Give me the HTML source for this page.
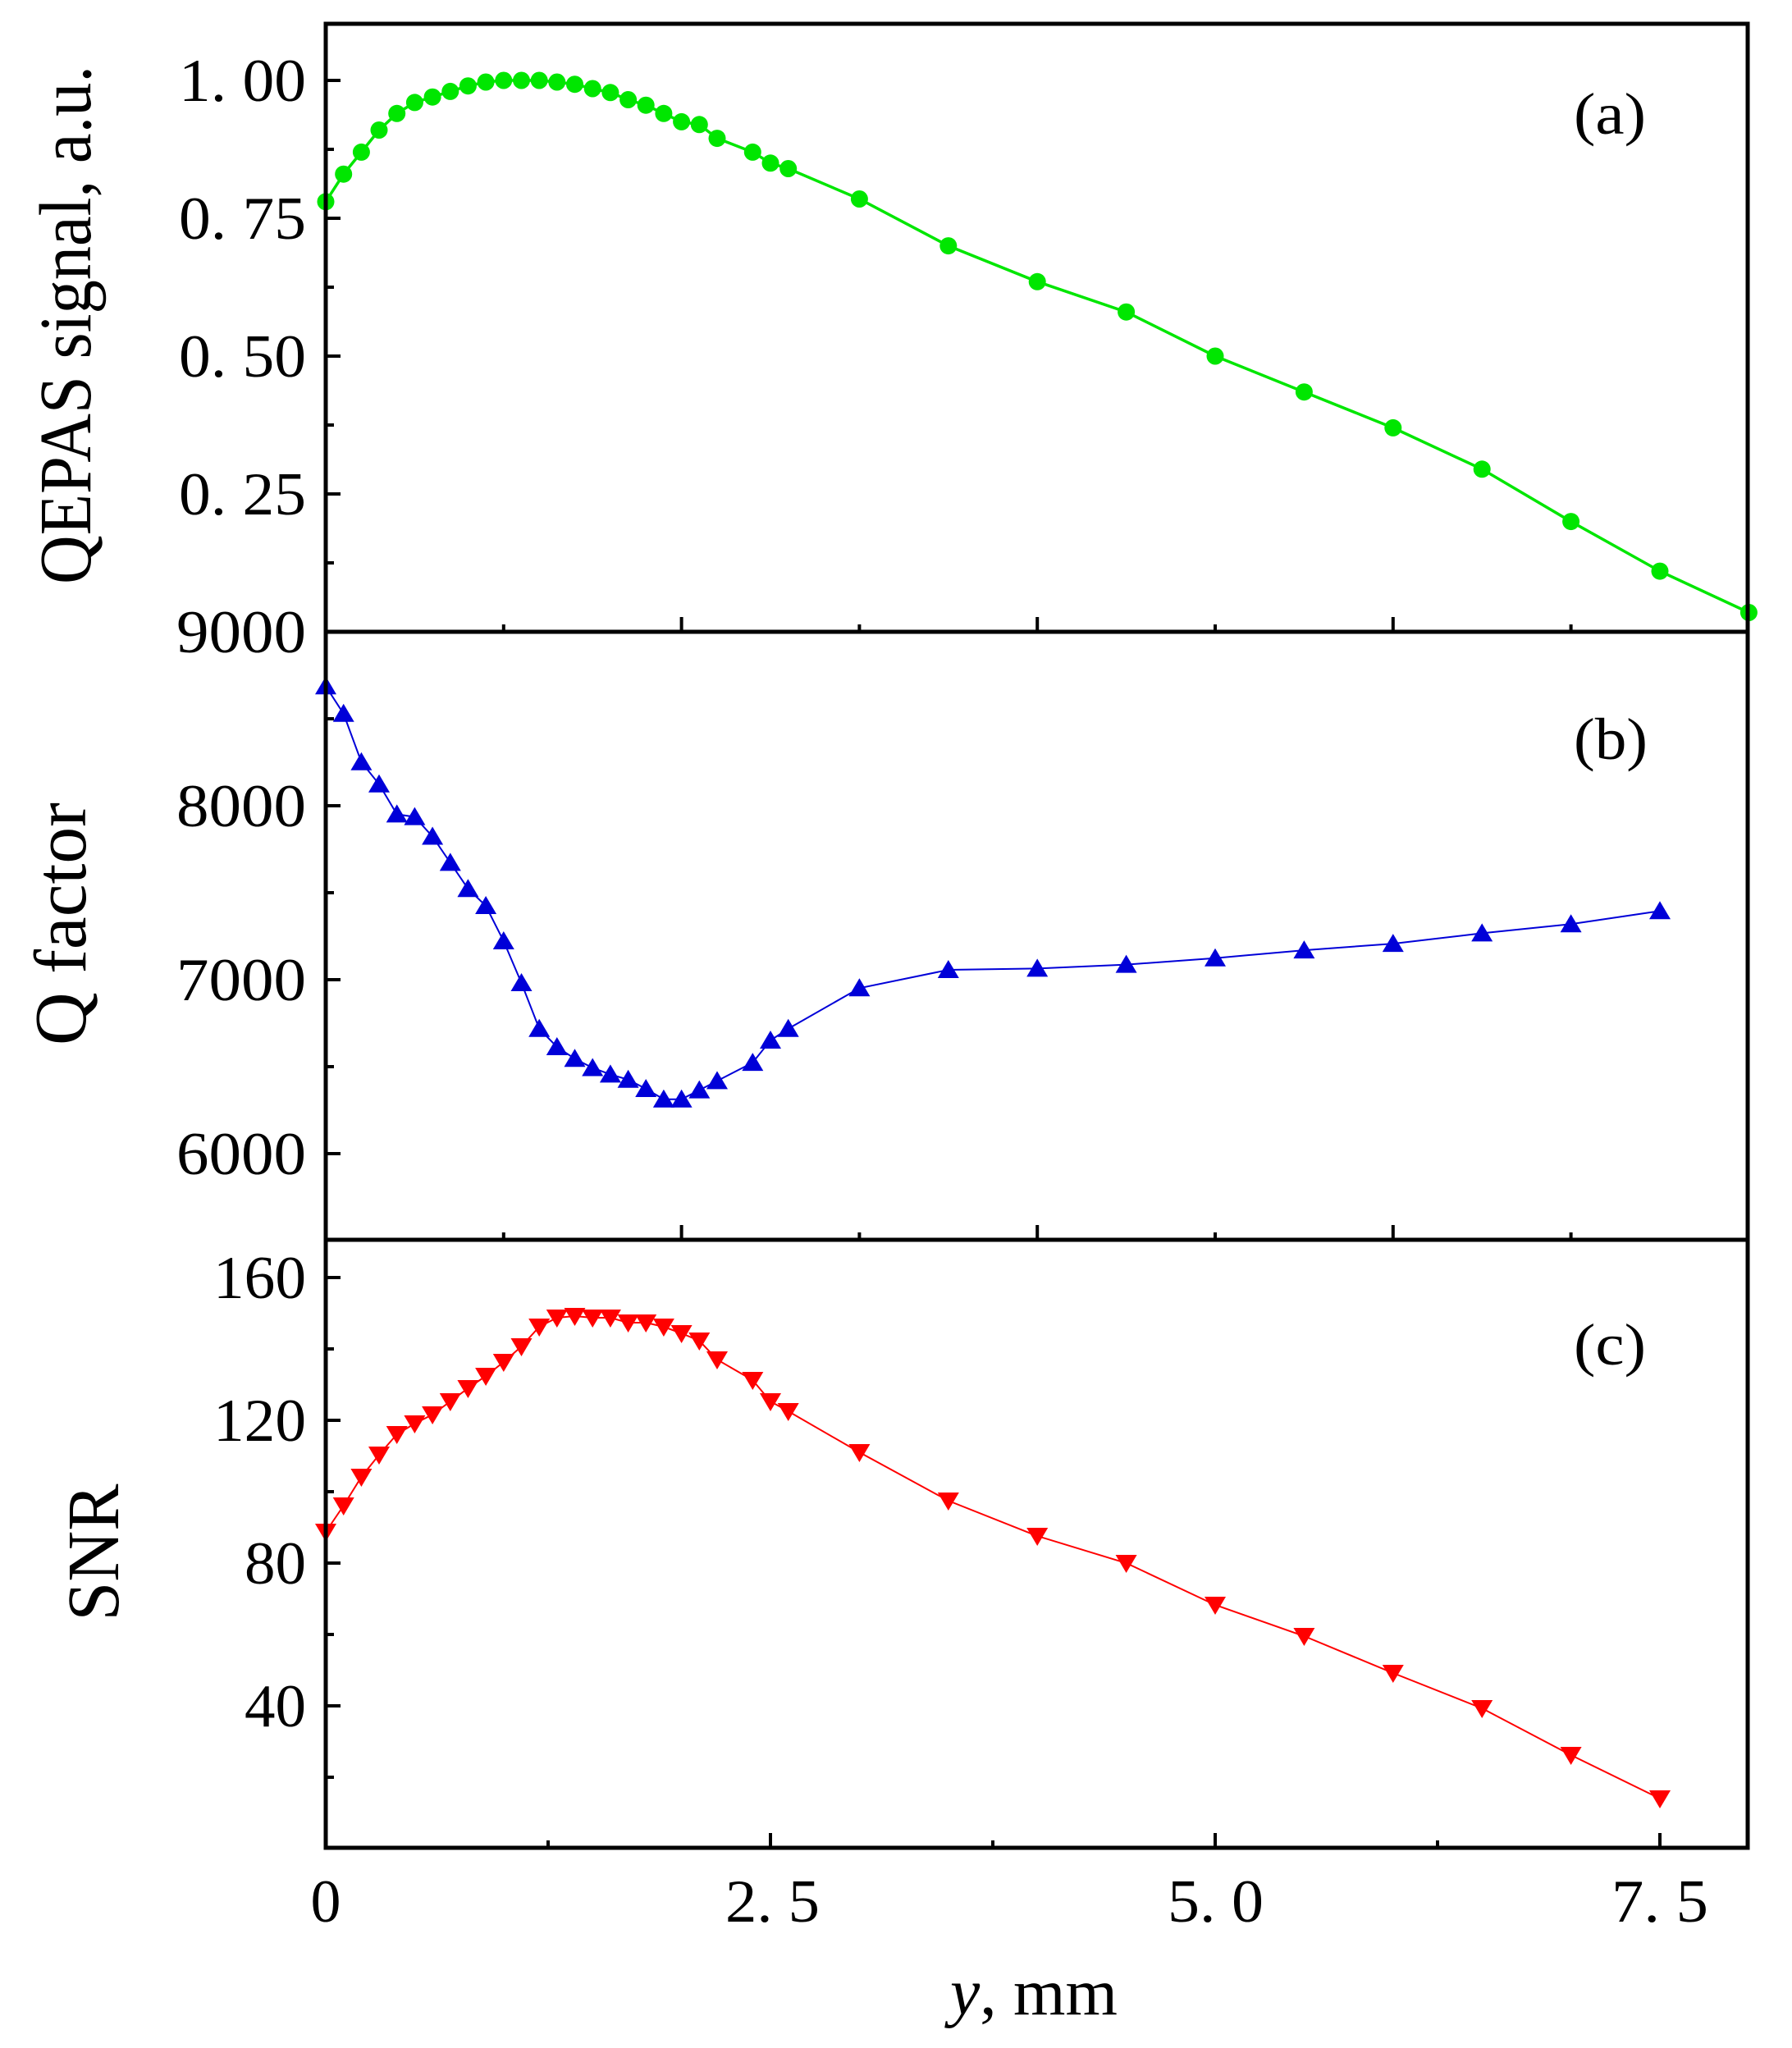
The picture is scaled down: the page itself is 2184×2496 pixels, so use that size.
<!DOCTYPE html>
<html><head><meta charset="utf-8"><style>
html,body{margin:0;padding:0;background:#fff;}
svg{display:block;}
text{font-family:"Liberation Serif","Times New Roman",serif;fill:#000;}
</style></head><body>
<svg width="2184" height="2496" viewBox="0 0 2184 2496" xmlns="http://www.w3.org/2000/svg">
<defs>
<marker id="mc" markerUnits="userSpaceOnUse" markerWidth="26" markerHeight="26" refX="13" refY="13" overflow="visible"><circle cx="13" cy="13" r="10.5" fill="#00e600"/></marker>
<marker id="mu" markerUnits="userSpaceOnUse" markerWidth="28" markerHeight="28" refX="14" refY="14" overflow="visible"><polygon points="14,2 27,24 1,24" fill="#0000d8"/></marker>
<marker id="md" markerUnits="userSpaceOnUse" markerWidth="28" markerHeight="28" refX="14" refY="14" overflow="visible"><polygon points="1,4 27,4 14,26" fill="#ff0000"/></marker>
</defs>
<rect width="2184" height="2496" fill="#fff"/>

<!-- series a -->
<polyline fill="none" stroke="#00e600" stroke-width="3.5" marker-start="url(#mc)" marker-mid="url(#mc)" marker-end="url(#mc)"
points="397,245.8 418.7,212.2 440.4,185.4 462,158.5 483.7,138.3 505.4,124.9 527.1,118.2 548.8,111.4 570.4,104.7 592.1,100 613.8,98 635.5,98 657.2,98 678.8,100 700.5,102.7 722.2,108 743.9,112.8 765.6,121.5 787.2,128.2 808.9,138.3 830.6,148.4 852.3,151.8 874,168.6 917.3,185.4 939,198.8 960.7,205.5 1047.4,242.5 1155.8,299.6 1264.2,343.3 1372.6,380.2 1481,434 1589.4,477.7 1697.8,521.4 1806.2,571.8 1914.6,635.6 2023,696.1 2131.4,746.5"/>

<!-- series b -->
<polyline fill="none" stroke="#0000d8" stroke-width="2" stroke-dasharray="" marker-start="url(#mu)" marker-mid="url(#mu)" marker-end="url(#mu)"
points="397,836.3 418.7,869.8 440.4,928.7 462,955.8 483.7,992.4 505.4,995.6 527.1,1019.5 548.8,1051.4 570.4,1083.2 592.1,1104 613.8,1147 635.5,1198 657.2,1253.7 678.8,1276 700.5,1290.3 722.2,1301.5 743.9,1309.4 765.6,1315.8 787.2,1327 808.9,1339.7 830.6,1339.7 852.3,1328.6 874,1317.4 917.3,1295.1 939,1268 960.7,1253.7 1047.4,1204.3 1155.8,1182 1264.2,1180.4 1372.6,1175.6 1481,1167.7 1589.4,1158.1 1697.8,1150.1 1806.2,1137.4 1914.6,1126.3 2023,1110.3"/>

<!-- series c -->
<polyline fill="none" stroke="#ff0000" stroke-width="2" marker-start="url(#md)" marker-mid="url(#md)" marker-end="url(#md)"
points="397,1867 418.7,1835 440.4,1800 462,1773 483.7,1748 505.4,1735 527.1,1724 548.8,1708 570.4,1692 592.1,1677 613.8,1660 635.5,1641 657.2,1617 678.8,1606 700.5,1604 722.2,1606 743.9,1606 765.6,1612 787.2,1612 808.9,1617 830.6,1625 852.3,1634 874,1657 917.3,1682 939,1708 960.7,1720 1047.4,1770 1155.8,1829 1264.2,1872 1372.6,1905 1481,1956 1589.4,1994 1697.8,2039 1806.2,2082 1914.6,2139 2023,2192"/>

<!-- frames -->
<g fill="none" stroke="#000" stroke-width="5">
<rect x="397" y="29" width="1733" height="2223"/>
<line x1="397" y1="770" x2="2130" y2="770"/>
<line x1="397" y1="1511" x2="2130" y2="1511"/>
</g>

<!-- ticks -->
<g stroke="#000" stroke-width="4">
<!-- panel a y -->
<line x1="397" y1="98" x2="415" y2="98"/><line x1="397" y1="266" x2="415" y2="266"/><line x1="397" y1="434" x2="415" y2="434"/><line x1="397" y1="602" x2="415" y2="602"/>
<line x1="397" y1="182" x2="407" y2="182"/><line x1="397" y1="350" x2="407" y2="350"/><line x1="397" y1="518" x2="407" y2="518"/><line x1="397" y1="686" x2="407" y2="686"/>
<!-- panel b y -->
<line x1="397" y1="982" x2="415" y2="982"/><line x1="397" y1="1194" x2="415" y2="1194"/><line x1="397" y1="1406" x2="415" y2="1406"/>
<line x1="397" y1="876" x2="407" y2="876"/><line x1="397" y1="1088" x2="407" y2="1088"/><line x1="397" y1="1300" x2="407" y2="1300"/>
<!-- panel c y -->
<line x1="397" y1="1557" x2="415" y2="1557"/><line x1="397" y1="1731" x2="415" y2="1731"/><line x1="397" y1="1905" x2="415" y2="1905"/><line x1="397" y1="2079" x2="415" y2="2079"/>
<line x1="397" y1="1644" x2="407" y2="1644"/><line x1="397" y1="1818" x2="407" y2="1818"/><line x1="397" y1="1992" x2="407" y2="1992"/><line x1="397" y1="2166" x2="407" y2="2166"/>
<!-- x ticks at a bottom -->
<line x1="830.6" y1="770" x2="830.6" y2="752"/><line x1="1264.2" y1="770" x2="1264.2" y2="752"/><line x1="1697.8" y1="770" x2="1697.8" y2="752"/>
<line x1="613.8" y1="770" x2="613.8" y2="761"/><line x1="1047.4" y1="770" x2="1047.4" y2="761"/><line x1="1481" y1="770" x2="1481" y2="761"/><line x1="1914.6" y1="770" x2="1914.6" y2="761"/>
<!-- x ticks at b bottom -->
<line x1="830.6" y1="1511" x2="830.6" y2="1493"/><line x1="1264.2" y1="1511" x2="1264.2" y2="1493"/><line x1="1697.8" y1="1511" x2="1697.8" y2="1493"/>
<line x1="613.8" y1="1511" x2="613.8" y2="1502"/><line x1="1047.4" y1="1511" x2="1047.4" y2="1502"/><line x1="1481" y1="1511" x2="1481" y2="1502"/><line x1="1914.6" y1="1511" x2="1914.6" y2="1502"/>
<!-- x ticks at c bottom -->
<line x1="939" y1="2252" x2="939" y2="2234"/><line x1="1481" y1="2252" x2="1481" y2="2234"/><line x1="2023" y1="2252" x2="2023" y2="2234"/>
<line x1="668" y1="2252" x2="668" y2="2243"/><line x1="1210" y1="2252" x2="1210" y2="2243"/><line x1="1752" y1="2252" x2="1752" y2="2243"/>
</g>

<!-- y tick labels -->
<g font-size="74" text-anchor="end">
<text x="373" y="123" textLength="155" lengthAdjust="spacingAndGlyphs">1. 00</text>
<text x="373" y="291" textLength="155" lengthAdjust="spacingAndGlyphs">0. 75</text>
<text x="373" y="459" textLength="155" lengthAdjust="spacingAndGlyphs">0. 50</text>
<text x="373" y="627" textLength="155" lengthAdjust="spacingAndGlyphs">0. 25</text>
<text x="373" y="795" textLength="158" lengthAdjust="spacingAndGlyphs">9000</text>
<text x="373" y="1007" textLength="158" lengthAdjust="spacingAndGlyphs">8000</text>
<text x="373" y="1219" textLength="158" lengthAdjust="spacingAndGlyphs">7000</text>
<text x="373" y="1431" textLength="158" lengthAdjust="spacingAndGlyphs">6000</text>
<text x="373" y="1582" textLength="113" lengthAdjust="spacingAndGlyphs">160</text>
<text x="373" y="1756" textLength="113" lengthAdjust="spacingAndGlyphs">120</text>
<text x="373" y="1930" textLength="75" lengthAdjust="spacingAndGlyphs">80</text>
<text x="373" y="2104" textLength="75" lengthAdjust="spacingAndGlyphs">40</text>
</g>
<!-- x tick labels -->
<g font-size="74">
<text x="397" y="2342" text-anchor="middle">0</text>
<text x="884" y="2342" textLength="115" lengthAdjust="spacingAndGlyphs">2. 5</text>
<text x="1423" y="2342" textLength="117" lengthAdjust="spacingAndGlyphs">5. 0</text>
<text x="1964" y="2342" textLength="118" lengthAdjust="spacingAndGlyphs">7. 5</text>
</g>
<text x="1158" y="2455" font-size="80" textLength="204" lengthAdjust="spacingAndGlyphs"><tspan font-style="italic">y</tspan>, mm</text>

<!-- y axis titles -->
<text transform="translate(110,396) rotate(-90)" font-size="90" text-anchor="middle" textLength="632" lengthAdjust="spacingAndGlyphs">QEPAS signal, a.u.</text>
<text transform="translate(104,1126) rotate(-90)" font-size="90" text-anchor="middle" textLength="296" lengthAdjust="spacingAndGlyphs">Q factor</text>
<text transform="translate(144,1892) rotate(-90)" font-size="90" text-anchor="middle" textLength="167" lengthAdjust="spacingAndGlyphs">SNR</text>

<!-- panel labels -->
<g font-size="72">
<text x="1918" y="163" textLength="88" lengthAdjust="spacingAndGlyphs">(a)</text>
<text x="1918" y="925" textLength="90" lengthAdjust="spacingAndGlyphs">(b)</text>
<text x="1918" y="1663" textLength="88" lengthAdjust="spacingAndGlyphs">(c)</text>
</g>
</svg>
</body></html>
